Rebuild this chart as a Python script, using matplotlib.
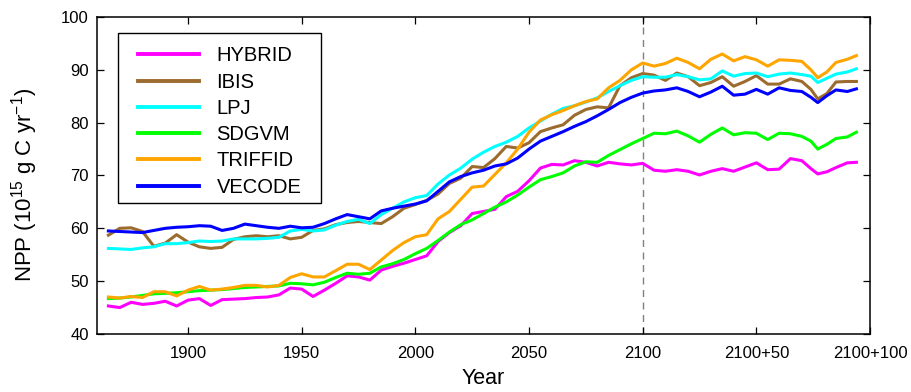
import matplotlib
matplotlib.use("Agg")
import matplotlib.pyplot as plt
from matplotlib.patches import Rectangle

plt.rcParams['font.family'] = ['Liberation Sans', 'DejaVu Sans']
plt.rcParams['mathtext.fontset'] = 'custom'
plt.rcParams['mathtext.rm'] = 'Liberation Sans'
plt.rcParams['mathtext.it'] = 'Liberation Sans:italic'
plt.rcParams['mathtext.default'] = 'regular'

# Simulation years (after 2100 the run continues with stabilised forcing)
years = [1865, 1870, 1875, 1880, 1885, 1890, 1895, 1900, 1905, 1910,
         1915, 1920, 1925, 1930, 1935, 1940, 1945, 1950, 1955, 1960,
         1965, 1970, 1975, 1980, 1985, 1990, 1995, 2000, 2005, 2010,
         2015, 2020, 2025, 2030, 2035, 2040, 2045, 2050, 2055, 2060,
         2065, 2070, 2075, 2080, 2085, 2090, 2095, 2100, 2105, 2110,
         2115, 2120, 2125, 2130, 2135, 2140, 2145, 2150, 2155, 2160,
         2165, 2170, 2174, 2177, 2181, 2185, 2190, 2194]

# Global NPP per model (10^15 g C / yr)
hybrid = [45.3, 45.0, 46.0, 45.6, 45.8, 46.2, 45.3, 46.4, 46.7, 45.4,
          46.5, 46.6, 46.7, 46.9, 47.0, 47.4, 48.7, 48.5, 47.1, 48.3,
          49.6, 51.0, 50.8, 50.2, 52.1, 52.8, 53.4, 54.1, 54.8, 57.5,
          59.2, 60.5, 62.8, 63.2, 63.6, 66.0, 67.0, 69.0, 71.4, 72.1,
          72.0, 72.8, 72.5, 71.8, 72.5, 72.2, 72.0, 72.3, 71.0, 70.8,
          71.1, 70.8, 70.1, 70.8, 71.3, 70.8, 71.6, 72.4, 71.1, 71.2,
          73.2, 72.8, 71.3, 70.3, 70.7, 71.5, 72.4, 72.5]

ibis = [58.7, 60.0, 60.1, 59.4, 56.6, 57.2, 58.8, 57.4, 56.5, 56.2,
        56.4, 57.9, 58.4, 58.6, 58.4, 58.6, 58.0, 58.3, 59.6, 59.9,
        60.7, 61.1, 61.3, 61.1, 60.9, 62.2, 63.8, 64.5, 65.3, 66.5,
        68.5, 69.5, 71.7, 71.5, 73.2, 75.5, 75.2, 76.2, 78.3, 79.0,
        79.6, 81.4, 82.5, 83.0, 82.8, 87.0, 88.5, 89.3, 89.0, 88.0,
        89.4, 88.7, 87.0, 87.6, 88.7, 86.9, 87.8, 88.9, 87.3, 87.3,
        88.3, 87.8, 86.3, 84.5, 85.5, 87.7, 87.8, 87.8]

lpj = [56.2, 56.1, 56.0, 56.3, 56.5, 57.1, 57.1, 57.3, 57.6, 57.5,
       57.6, 58.0, 58.0, 58.0, 58.1, 58.3, 59.5, 59.8, 59.5, 59.7,
       60.6, 61.3, 61.7, 60.9, 62.6, 63.8, 65.0, 65.8, 66.2, 68.4,
       70.1, 71.4, 73.1, 74.4, 75.5, 76.3, 77.4, 79.0, 80.3, 81.6,
       82.7, 83.2, 83.9, 84.7, 85.9, 87.0, 88.0, 88.7, 88.6, 88.6,
       89.1, 88.7, 88.1, 88.3, 89.8, 88.8, 89.3, 89.4, 88.7, 89.2,
       89.4, 89.1, 88.8, 87.6, 88.4, 89.2, 89.6, 90.2]

sdgvm = [46.7, 46.8, 47.0, 47.3, 47.6, 47.7, 47.8, 48.0, 48.2, 48.3,
         48.4, 48.6, 48.8, 48.9, 49.0, 49.1, 49.6, 49.5, 49.3, 49.8,
         50.7, 51.5, 51.3, 51.5, 52.7, 53.3, 54.1, 55.2, 56.2, 57.7,
         59.3, 60.7, 61.6, 62.8, 64.0, 65.0, 66.3, 67.8, 69.2, 69.8,
         70.5, 71.8, 72.6, 72.5, 73.8, 74.9, 76.0, 77.0, 78.0, 77.9,
         78.4, 77.5, 76.3, 77.8, 79.0, 77.7, 78.1, 78.0, 76.8, 78.0,
         77.9, 77.4, 76.5, 75.0, 75.9, 77.0, 77.3, 78.2]

triffid = [47.0, 46.8, 47.1, 46.9, 48.0, 48.0, 47.2, 48.3, 49.0, 48.3,
           48.5, 48.8, 49.2, 49.2, 48.9, 49.2, 50.7, 51.4, 50.8, 50.8,
           52.0, 53.2, 53.2, 52.2, 54.0, 55.8, 57.3, 58.4, 58.8, 61.8,
           63.2, 65.5, 67.8, 68.0, 70.2, 72.4, 75.0, 78.2, 80.5, 81.5,
           82.3, 83.2, 84.0, 84.5, 86.6, 88.0, 90.0, 91.3, 90.7, 91.2,
           92.2, 91.4, 90.2, 92.0, 93.0, 91.7, 92.5, 91.9, 90.7, 91.9,
           91.8, 91.6, 90.0, 88.5, 89.6, 91.4, 92.0, 92.7]

vecode = [59.5, 59.4, 59.3, 59.2, 59.6, 60.0, 60.2, 60.3, 60.5, 60.4,
          59.6, 60.0, 60.8, 60.5, 60.2, 60.0, 60.4, 60.1, 60.2, 60.9,
          61.8, 62.6, 62.2, 61.8, 63.3, 63.8, 64.2, 64.6, 65.2, 67.0,
          68.8, 69.8, 70.5, 71.0, 71.8, 72.2, 73.3, 75.0, 76.5, 77.4,
          78.3, 79.3, 80.2, 81.3, 82.5, 83.8, 84.8, 85.6, 86.0, 86.2,
          86.6, 85.9, 84.9, 85.8, 86.9, 85.2, 85.4, 86.3, 85.4, 86.6,
          86.1, 85.9, 84.8, 83.8, 85.1, 86.2, 85.9, 86.4]

model_names = ['HYBRID', 'IBIS', 'LPJ', 'SDGVM', 'TRIFFID', 'VECODE']
model_colors = ['#ff00ff', '#9c6b2e', '#00ffff', '#00ff00', '#ffa500', '#0000ff']

tick_years = [1900, 1950, 2000, 2050, 2100, 2150, 2200]
tick_labels = ['1900', '1950', '2000', '2050', '2100', '2100+50', '2100+100']

fig = plt.figure(figsize=(9.12, 3.92), dpi=100)
ax = fig.add_axes([0.1064, 0.148, 0.8476, 0.8086])

for vals, name, col in zip([hybrid, ibis, lpj, sdgvm, triffid, vecode],
                           model_names, model_colors):
    ax.plot(years, vals, color=col, lw=2.2, label=name, solid_joinstyle='round')

ax.axvline(2100, color='#808080', lw=1.0, ls=(0, (5, 4)), zorder=0)

ax.set_xlim(1860, 2200)
ax.set_ylim(40, 100)
ax.set_xticks(tick_years)
ax.set_xticklabels(tick_labels)
ax.set_yticks([40, 50, 60, 70, 80, 90, 100])

ax.tick_params(direction='in', top=True, right=True, length=5, width=0.9,
               labelsize=12, colors='black')
ax.tick_params(axis='x', pad=9)
ax.tick_params(axis='y', pad=6)
for sp in ax.spines.values():
    sp.set_linewidth(1.1)

ax.set_xlabel('Year', fontsize=15.5, labelpad=5)
ax.set_ylabel('NPP (10$^{15}$ g C yr$^{-1}$)', fontsize=16)
ax.yaxis.set_label_coords(-0.074, 0.47)

# Legend entries without their own frame; the box is drawn separately
leg = ax.legend(loc='upper left', bbox_to_anchor=(0.053, 0.907),
                borderaxespad=0, borderpad=0, fontsize=14.5, handlelength=3.03,
                handletextpad=0.87, labelspacing=0.36, frameon=False)
for h in leg.get_lines():
    h.set_linewidth(2.8)
ax.add_patch(Rectangle((0.0268, 0.4142), 0.263, 0.5344, transform=ax.transAxes,
                       facecolor='white', edgecolor='black', lw=1.0, zorder=4.9))
leg.set_zorder(5)

fig.savefig('out.png', dpi=100)
